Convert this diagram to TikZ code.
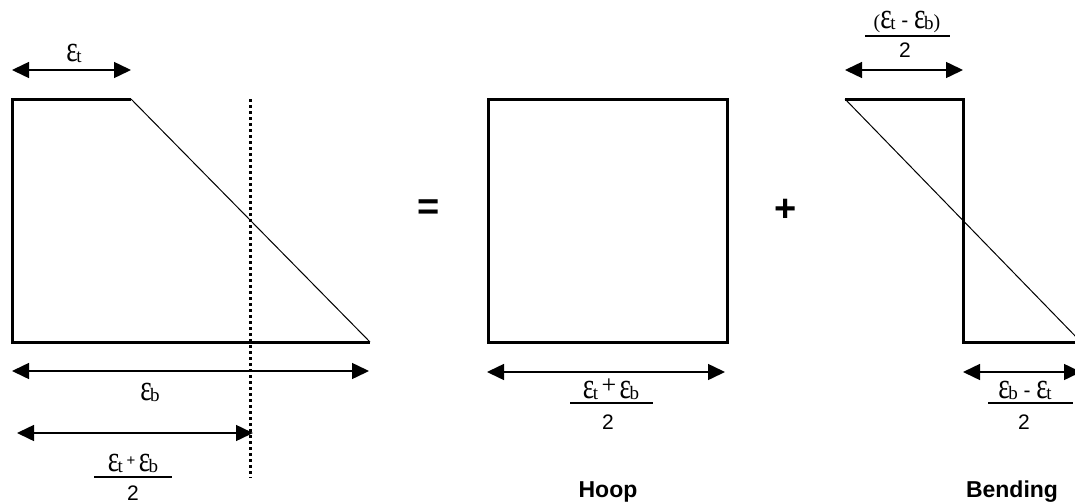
\documentclass[tikz,border=0pt]{standalone}
\usepackage{fontspec}
\setmainfont{Liberation Sans}
\newfontfamily\epsfont{Liberation Serif}
\usetikzlibrary{arrows.meta}
\newcommand\eps{{\epsfont\fontsize{32}{32}\selectfont\scalebox{0.85}[1.15]{ε}}}
\newcommand\sub[1]{{\epsfont\fontsize{19}{19}\selectfont\raisebox{-1pt}{#1}}}
\newcommand\et{\eps\kern-1.5pt\sub{t}}
\newcommand\eb{\eps\kern-1.5pt\sub{b}}
\tikzset{
  x=1pt, y=-1pt,
  outline/.style={line width=3pt, line join=miter},
  slant/.style={line width=1pt},
  dimarrow/.style={line width=1.5pt, {Triangle[length=17pt,width=16pt]}-{Triangle[length=17pt,width=16pt]}},
  axisline/.style={line width=3pt, dash pattern=on 3pt off 3pt},
  lbl/.style={inner sep=0pt, font=\fontsize{21}{21}\selectfont},
  blbl/.style={inner sep=0pt, font=\bfseries\fontsize{23}{23}\selectfont},
  opl/.style={inner sep=0pt, font=\bfseries\fontsize{38}{38}\selectfont},
  fracline/.style={line width=1.3pt}
}
\newcommand\lpar{{\epsfont\fontsize{20}{20}\selectfont(}}
\newcommand\rpar{{\epsfont\fontsize{20}{20}\selectfont)}}
\begin{document}
\begin{tikzpicture}
\clip (0,0) rectangle (1075,503);
\fill[white] (0,0) rectangle (1075,503);

% ---------- left trapezoid ----------
\coordinate (A) at (12,99);
\coordinate (B) at (131,99);
\coordinate (C) at (370,342);
\coordinate (D) at (12,342);
\draw[outline] (B) -- (A) -- (D) -- (C);
\draw[slant] (B) -- (C);
\coordinate (axT) at (250,99);
\coordinate (axB) at (250,478);
\draw[axisline] (axT) -- (axB);

\coordinate (et1) at (12,70);
\coordinate (et2) at (131,70);
\draw[dimarrow] (et1) -- (et2);
\node[lbl] (etl) at (74,53) {\et};

\coordinate (eb1) at (12,371);
\coordinate (eb2) at (369,371);
\draw[dimarrow] (eb1) -- (eb2);
\node[lbl] (ebl) at (150,392) {\eb};

\coordinate (m1) at (17,433);
\coordinate (m2) at (253,433);
\draw[dimarrow] (m1) -- (m2);
\node[lbl] (mnum) at (133,463) {\et\,{\fontsize{15}{15}\selectfont\raisebox{6pt}{+}}\,\eb};
\coordinate (mf1) at (94,477);
\coordinate (mf2) at (172,477);
\draw[fracline] (mf1) -- (mf2);
\node[lbl] (mden) at (133,493) {2};

% ---------- equals ----------
\node[opl] (eq) at (429,210) {=};

% ---------- hoop ----------
\coordinate (H1) at (488,99);
\coordinate (H2) at (727,99);
\coordinate (H3) at (727,342);
\coordinate (H4) at (488,342);
\draw[outline] (H1) -- (H2) -- (H3) -- (H4) -- cycle;
\coordinate (h1) at (487,372);
\coordinate (h2) at (725,372);
\draw[dimarrow] (h1) -- (h2);
\node[lbl] (hnum) at (611,389) {\et\,{\epsfont\fontsize{26}{26}\selectfont\raisebox{5pt}{+}}\,\eb};
\coordinate (hf1) at (570,403);
\coordinate (hf2) at (653,403);
\draw[fracline] (hf1) -- (hf2);
\node[lbl] (hden) at (608,422) {2};
\node[blbl] (hoop) at (608,492) {Hoop};

% ---------- plus ----------
\node[opl] (plus) at (786,210) {+};

% ---------- bending ----------
\coordinate (G1) at (845,99);
\coordinate (G2) at (963,99);
\coordinate (G3) at (963,342);
\coordinate (G4) at (1081,342);
\draw[outline] (G1) -- (G2) -- (G3) -- (G4);
\draw[slant] (G1) -- (G4);
\coordinate (g1) at (845,70);
\coordinate (g2) at (963,70);
\draw[dimarrow] (g1) -- (g2);
\node[lbl] (gnum) at (907,22) {\lpar\et\ \raisebox{1pt}{-} \eb\rpar};
\coordinate (gf1) at (865,36);
\coordinate (gf2) at (950,36);
\draw[fracline] (gf1) -- (gf2);
\node[lbl] (gden) at (905,50) {2};

\coordinate (k1) at (963,372);
\coordinate (k2) at (1081,372);
\draw[dimarrow] (k1) -- (k2);
\node[lbl] (knum) at (1025,390) {\eb\ \raisebox{1pt}{-} \et};
\coordinate (kf1) at (988,403);
\coordinate (kf2) at (1073,403);
\draw[fracline] (kf1) -- (kf2);
\node[lbl] (kden) at (1024,422) {2};
\node[blbl] (bend) at (1012,492) {Bending};
\end{tikzpicture}
\end{document}
